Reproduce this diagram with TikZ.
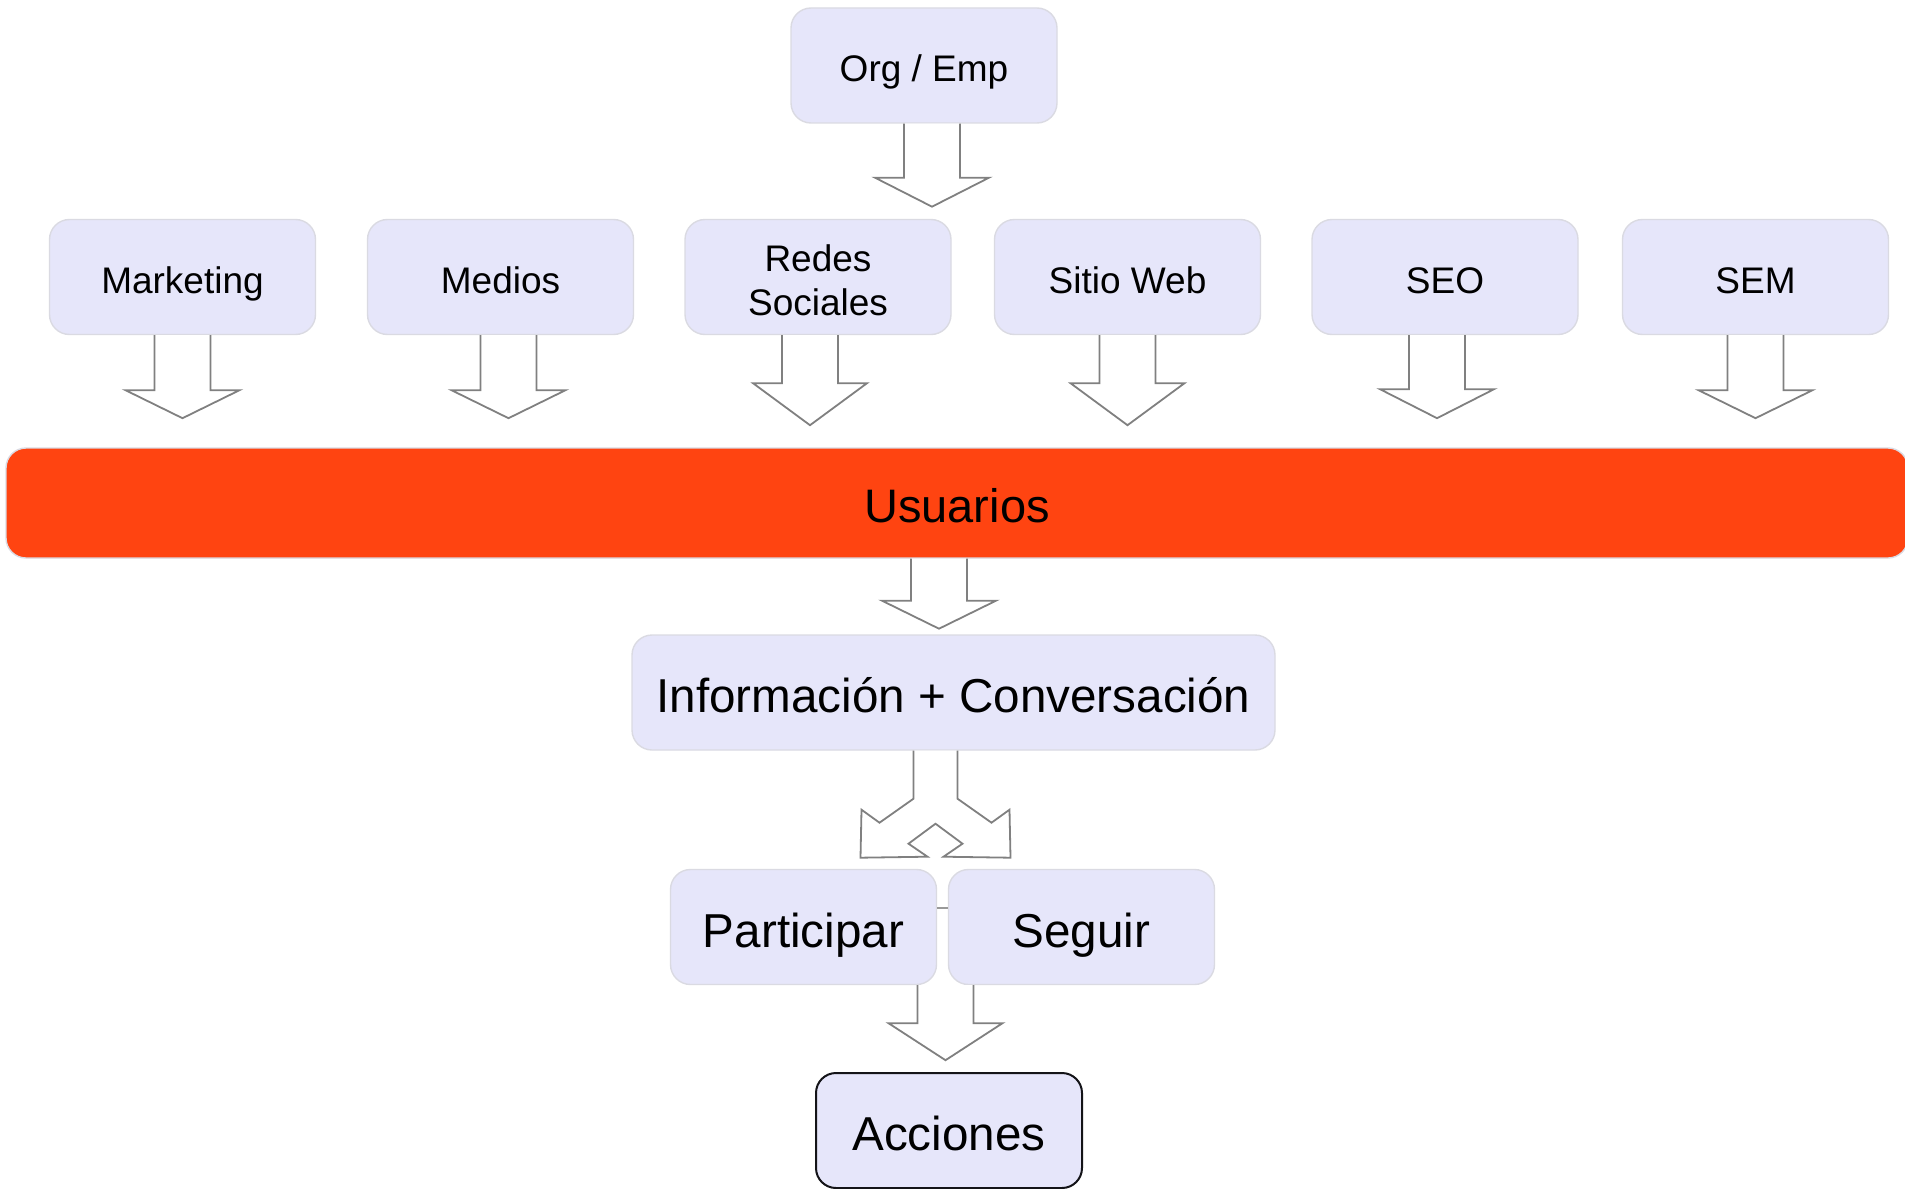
\documentclass[tikz,border=0pt]{standalone}
\usepackage{fontspec}
\setmainfont{Liberation Sans}
\usetikzlibrary{calc}
\definecolor{boxfill}{RGB}{230, 230, 250}
\definecolor{boxline}{RGB}{218, 218, 226}
\definecolor{arrline}{RGB}{128, 128, 128}
\definecolor{usrfill}{RGB}{255, 68, 17}
\definecolor{accline}{RGB}{20, 20, 24}

% block arrow: start point, x offset, shaft length, head length
\newcommand{\blockarr}[4]{%
  \draw[barr] #1 ++(#2-28,0) -- ++(0,#3) -- ++(-29,0) -- ++(57,#4) -- ++(57,-#4) -- ++(-29,0) -- ++(0,-#3);
}

\begin{document}
\begin{tikzpicture}[
    x=0.5pt, y=-0.5pt,
    box/.style  = {draw=boxline, line width=0.7pt, fill=boxfill, rounded corners=10pt,
                   minimum width=133pt, minimum height=57.5pt, inner sep=0pt, align=center,
                   font=\fontsize{18.5}{22}\selectfont, text height=16.2pt, text depth=0pt},
    big/.style  = {font=\fontsize{23.8}{28}\selectfont, text height=20pt},
    bar/.style  = {draw=boxline, line width=0.7pt, fill=usrfill, rounded corners=10pt,
                   minimum width=951pt, minimum height=55pt, inner sep=0pt,
                   font=\fontsize{23.5}{28}\selectfont, text height=19.8pt, text depth=0pt},
    barr/.style = {draw=arrline, fill=white, line width=0.9pt},
    tie/.style  = {draw=arrline!80, line width=0.8pt},
  ]
    \useasboundingbox (0,0) rectangle (1905,1188);
    \def\ry{277}  % row of channels

    % ── top ──
    \node[box] (org) at (924,65.5)     {Org / Emp};

    % ── channels ──
    \node[box] (mkt) at (182.5,\ry)    {Marketing};
    \node[box] (med) at (500.5,\ry)    {Medios};
    \node[box, text height=38pt] (red) at (818,\ry) {Redes\\Sociales};
    \node[box] (web) at (1127.5,\ry)   {Sitio Web};
    \node[box] (seo) at (1445,\ry)     {SEO};
    \node[box] (sem) at (1755.5,\ry)   {SEM};

    % ── users ──
    \node[bar] (usr) at (957,503)      {Usuarios};

    % ── lower part ──
    \node[box, big, minimum width=321.5pt] (info) at (953.5,692.5) {Información + Conversación};
    \node[box, big] (part) at (803.5,927)  {Participar};
    \node[box, big] (seg)  at (1081.5,927) {Seguir};
    \node[box, big, draw=accline, line width=1pt] (acc) at (949,1130.5) {Acciones};

    % ── arrows ──
    \blockarr{(org.south)}{8}{54}{29}
    \blockarr{(mkt.south)}{0}{55}{28}
    \blockarr{(med.south)}{8}{55}{28}
    \blockarr{(red.south)}{-8}{48}{42}
    \blockarr{(web.south)}{0}{48}{42}
    \blockarr{(seo.south)}{-8}{54}{29}
    \blockarr{(sem.south)}{0}{55}{28}
    \blockarr{(usr.south)}{-18}{42}{28}
    \blockarr{($(part.south east)!.5!(seg.south west)$)}{3}{38}{37}

    % fork to Participar / Seguir
    \begin{scope}[shift={(info.south)}]
      \draw[barr] (-40,0) -- (-40,48) -- (-74,72) -- (-92,59) -- (-93,107) -- (-26,106)
        -- (-45,93) -- (-18,73) -- (9,93) -- (-10,106) -- (57,107) -- (56,59)
        -- (38,72) -- (4,48) -- (4,0);
    \end{scope}
    \draw[tie] ([yshift=9.5pt]part.east) -- ([yshift=9.5pt]seg.west);

  \end{tikzpicture}
\end{document}
